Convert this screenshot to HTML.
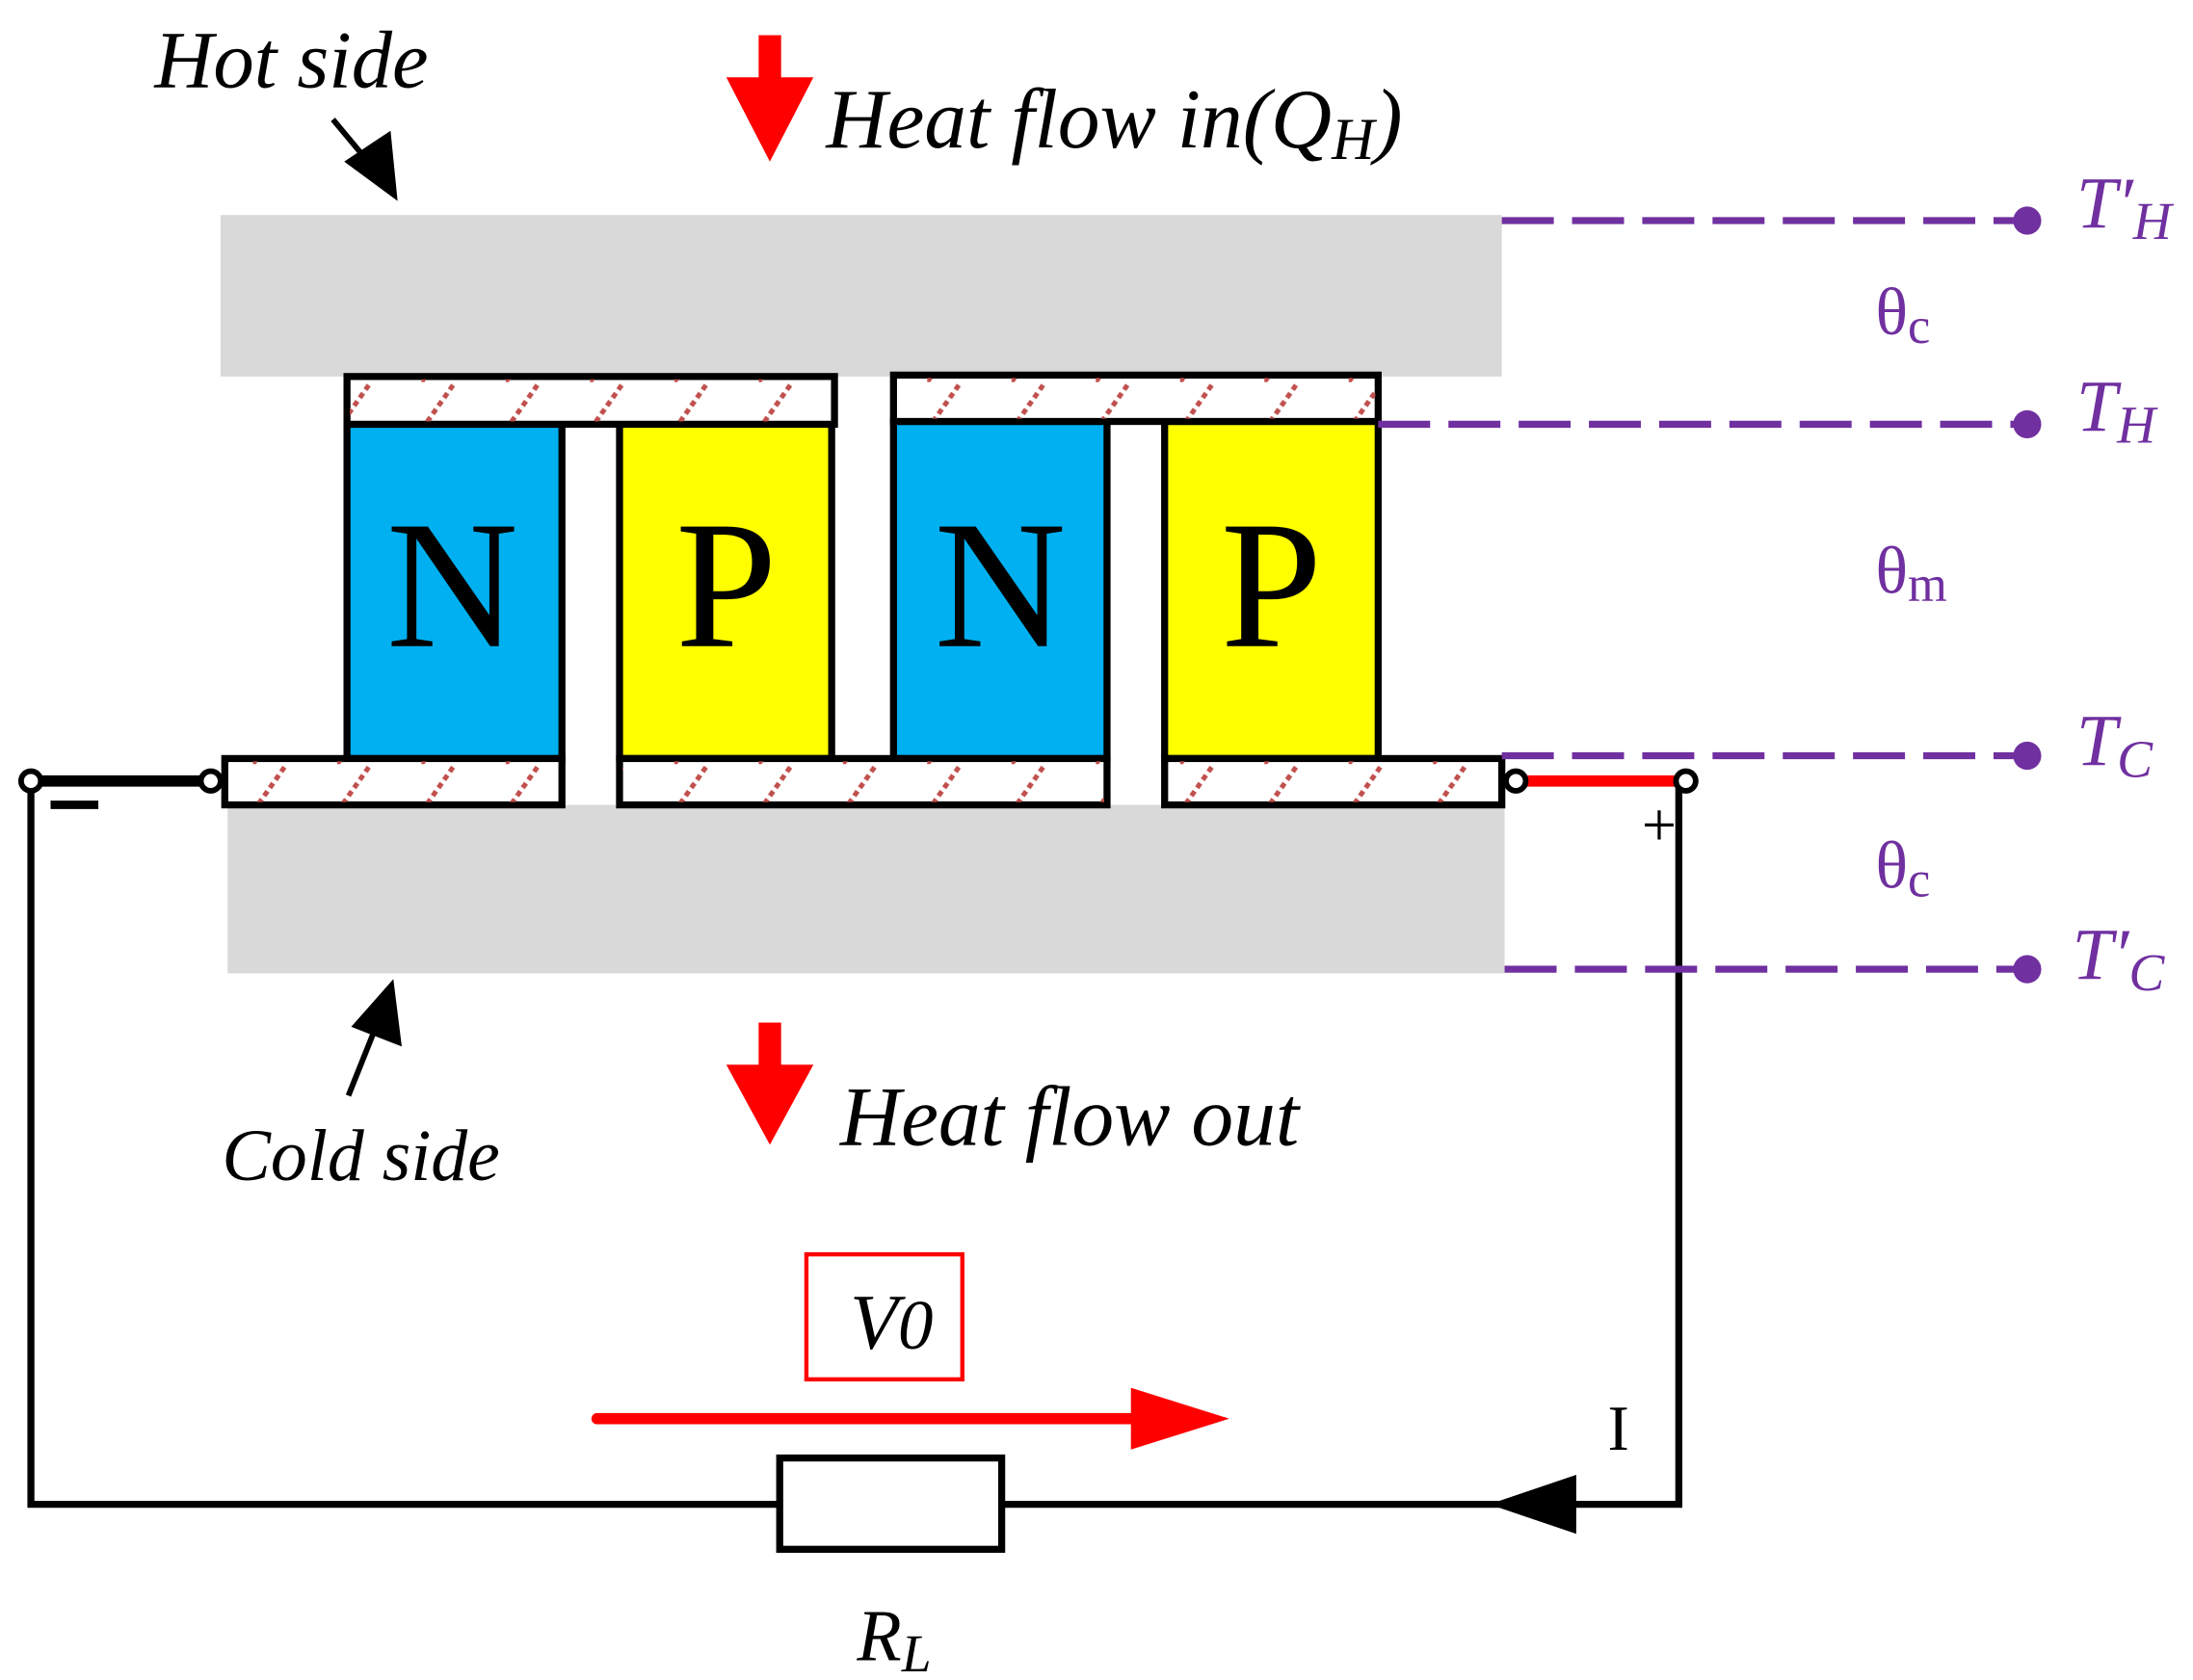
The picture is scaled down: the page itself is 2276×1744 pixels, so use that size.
<!DOCTYPE html>
<html><head><meta charset="utf-8"><style>
html,body{margin:0;padding:0;background:#fff}
svg{display:block}
text{font-family:"Liberation Serif",serif}
</style></head><body>
<svg width="2276" height="1744" viewBox="0 0 1561 1196" xmlns="http://www.w3.org/2000/svg">
<defs>
<pattern id="h" patternUnits="userSpaceOnUse" width="60" height="34">
<line x1="0" y1="34" x2="24" y2="0" stroke="#c0504d" stroke-width="3.5" stroke-dasharray="4,3"/>
</pattern>
</defs>
<rect x="157" y="153" width="912" height="115" fill="#d9d9d9"/>
<rect x="162" y="573" width="909" height="120" fill="#d9d9d9"/>
<rect x="247" y="302" width="153" height="238" fill="#00b0f0" stroke="#000" stroke-width="5"/>
<rect x="441" y="302" width="151" height="238" fill="#ffff00" stroke="#000" stroke-width="5"/>
<rect x="636" y="300" width="152" height="240" fill="#00b0f0" stroke="#000" stroke-width="5"/>
<rect x="829" y="300" width="152" height="240" fill="#ffff00" stroke="#000" stroke-width="5"/>
<g font-size="130" text-anchor="middle">
<text x="322" y="460">N</text><text x="517" y="460">P</text>
<text x="712" y="460">N</text><text x="905" y="460">P</text>
</g>
<g stroke="#000" stroke-width="5">
<rect x="247" y="268" width="347" height="34" fill="#fff"/>
<rect x="636" y="267" width="345" height="33" fill="#fff"/>
<rect x="160" y="540" width="240" height="33" fill="#fff"/>
<rect x="441" y="540" width="347" height="33" fill="#fff"/>
<rect x="829" y="540" width="240" height="33" fill="#fff"/>
</g>
<g fill="url(#h)">
<rect x="249" y="270" width="343" height="30"/>
<rect x="638" y="269" width="341" height="29"/>
<rect x="162" y="542" width="236" height="29"/>
<rect x="443" y="542" width="343" height="29"/>
<rect x="831" y="542" width="236" height="29"/>
</g>
<g fill="none" stroke="#000" stroke-width="5">
<polyline points="22,556 22,1071 555,1071"/>
<polyline points="713,1071 1195,1071 1195,556"/>
<rect x="555" y="1038" width="158" height="65"/>
</g>
<line x1="22" y1="556" x2="150" y2="556" stroke="#000" stroke-width="8"/>
<line x1="1079" y1="556" x2="1200" y2="556" stroke="#f00" stroke-width="8"/>
<g fill="#fff" stroke="#000" stroke-width="4">
<circle cx="22" cy="556" r="7"/><circle cx="150" cy="556" r="7"/>
<circle cx="1079" cy="556" r="7"/><circle cx="1200" cy="556" r="7"/>
</g>
<line x1="36" y1="573" x2="70" y2="573" stroke="#000" stroke-width="6"/>
<text x="1181" y="602" font-size="44" text-anchor="middle">+</text>
<polygon points="1060,1071 1122,1050 1122,1092" fill="#000"/>
<text x="1152" y="1032" font-size="46" text-anchor="middle">I</text>
<rect x="574" y="893" width="111" height="89" fill="none" stroke="#f00" stroke-width="3"/>
<text x="605" y="960" font-size="56" font-style="italic">V<tspan font-size="50">0</tspan></text>
<line x1="425" y1="1010" x2="812" y2="1010" stroke="#f00" stroke-width="8" stroke-linecap="round"/>
<polygon points="805,988 875,1010 805,1032" fill="#f00"/>
<text x="610" y="1182" font-size="52" font-style="italic">R<tspan font-size="38" dy="8">L</tspan></text>
<rect x="540" y="25" width="16" height="35" fill="#f00"/>
<polygon points="517,55 579,55 548,115" fill="#f00"/>
<text x="588" y="105" font-size="60" font-style="italic">Heat flow in(Q<tspan font-size="42" dy="8">H</tspan><tspan dy="-8">)</tspan></text>
<rect x="540" y="728" width="16" height="35" fill="#f00"/>
<polygon points="517,758 579,758 548,815" fill="#f00"/>
<text x="598" y="815" font-size="60" font-style="italic">Heat flow out</text>
<text x="110" y="62" font-size="58" font-style="italic">Hot side</text>
<line x1="237" y1="85" x2="262" y2="115" stroke="#000" stroke-width="4"/>
<polygon points="283,143 245,115 278,93" fill="#000"/>
<text x="158" y="840" font-size="52" font-style="italic">Cold side</text>
<line x1="248" y1="780" x2="266" y2="735" stroke="#000" stroke-width="4"/>
<polygon points="280,697 286,745 250,731" fill="#000"/>
<g stroke="#7030a0" stroke-width="5" stroke-dasharray="37,13">
<line x1="1069" y1="157" x2="1443" y2="157"/>
<line x1="981" y1="302" x2="1443" y2="302"/>
<line x1="1069" y1="538" x2="1443" y2="538"/>
<line x1="1071" y1="690" x2="1443" y2="690"/>
</g>
<g fill="#7030a0">
<circle cx="1443" cy="157" r="10"/><circle cx="1443" cy="302" r="10"/>
<circle cx="1443" cy="538" r="10"/><circle cx="1443" cy="690" r="10"/>
<g font-size="52" font-style="italic">
<text x="1478" y="162">T′<tspan font-size="38" dy="8">H</tspan></text>
<text x="1478" y="307">T<tspan font-size="38" dy="8">H</tspan></text>
<text x="1478" y="545">T<tspan font-size="38" dy="8">C</tspan></text>
<text x="1475" y="697">T′<tspan font-size="38" dy="8">C</tspan></text>
</g>
<g font-size="48">
<text x="1335" y="238">θ<tspan font-size="36" dy="6">c</tspan></text>
<text x="1335" y="422">θ<tspan font-size="36" dy="6">m</tspan></text>
<text x="1335" y="632">θ<tspan font-size="36" dy="6">c</tspan></text>
</g>
</g>
</svg>
</body></html>
